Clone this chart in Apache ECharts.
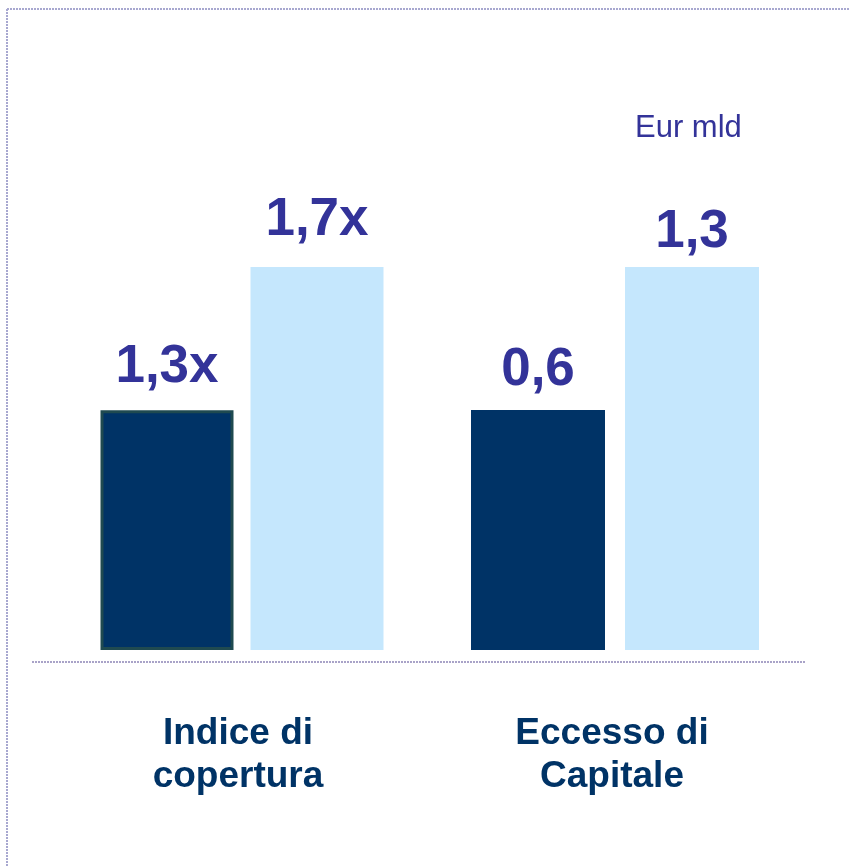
<!DOCTYPE html>
<html>
<head>
<meta charset="utf-8">
<script src="https://cdn.jsdelivr.net/npm/echarts@6/dist/echarts.min.js"></script>
<style>html,body{margin:0;padding:0;background:#fff}#c{width:850px;height:867px}</style>
</head>
<body>
<div id="c"></div>
<script>
// Data
var groups = ['Indice di\ncopertura', 'Eccesso di\nCapitale'];
var barKeys = ['prima', 'dopo'];
var coverageValues = [1.3, 1.7];
var capitalValues = [0.6, 1.3];
var coverageLabels = ['1,3x', '1,7x'];
var capitalLabels = ['0,6', '1,3'];
var unitLabel = 'Eur mld';

var DARK = '#003366', LIGHT = '#C5E7FD', LABEL = '#333399';

function items(vals, labels, distances, firstBorder) {
  return vals.map(function (v, i) {
    var it = {
      value: v,
      itemStyle: { color: i === 0 ? DARK : LIGHT },
      label: { formatter: labels[i], distance: distances[i] }
    };
    if (i === 0 && firstBorder) {
      it.itemStyle.borderColor = '#1F4A50';
      it.itemStyle.borderWidth = 3;
    }
    return it;
  });
}

var labelStyle = {
  show: true, position: 'top',
  fontFamily: 'Liberation Sans, Arial, sans-serif',
  fontWeight: 'bold', fontSize: 53, color: LABEL
};

var chart = echarts.init(document.getElementById('c'), null, { renderer: 'canvas' });
chart.setOption({
  animation: false,
  grid: [
    { left: 92, width: 300, top: 267, bottom: 217 },
    { left: 461, width: 308, top: 267, bottom: 217 }
  ],
  xAxis: [
    { type: 'category', gridIndex: 0, data: barKeys, show: false },
    { type: 'category', gridIndex: 1, data: barKeys, show: false }
  ],
  yAxis: [
    { type: 'value', gridIndex: 0, min: 0.63, max: 1.7, startValue: 0.63, show: false, splitLine: { show: false } },
    { type: 'value', gridIndex: 1, min: -0.575, max: 1.3, startValue: -0.575, show: false, splitLine: { show: false } }
  ],
  title: [
    { text: groups[0], left: 233, top: 707, textAlign: 'center',
      textStyle: { fontFamily: 'Liberation Sans, Arial, sans-serif', fontWeight: 'bold', fontSize: 37, lineHeight: 43, color: '#003366' } },
    { text: groups[1], left: 607, top: 707, textAlign: 'center',
      textStyle: { fontFamily: 'Liberation Sans, Arial, sans-serif', fontWeight: 'bold', fontSize: 37, lineHeight: 43, color: '#003366' } },
    { text: unitLabel, left: 630, top: 108,
      textStyle: { fontFamily: 'Liberation Sans, Arial, sans-serif', fontWeight: 'normal', fontSize: 31, color: LABEL } }
  ],
  graphic: [
    { type: 'line', shape: { x1: 7, y1: 9, x2: 850, y2: 9 }, style: { stroke: '#A8A8D0', lineWidth: 2, lineDash: [2, 1] }, silent: true },
    { type: 'line', shape: { x1: 7, y1: 9, x2: 7, y2: 867 }, style: { stroke: '#A8A8D0', lineWidth: 2, lineDash: [2, 1] }, silent: true },
    { type: 'line', shape: { x1: 32, y1: 662, x2: 806, y2: 662 }, style: { stroke: '#A9A3C8', lineWidth: 2, lineDash: [2, 1] }, silent: true }
  ],
  series: [
    { type: 'bar', xAxisIndex: 0, yAxisIndex: 0, barWidth: 133, label: labelStyle,
      data: items(coverageValues, coverageLabels, [16, 20], true) },
    { type: 'bar', xAxisIndex: 1, yAxisIndex: 1, barWidth: 134, label: labelStyle,
      data: items(capitalValues, capitalLabels, [13, 8], false) }
  ]
});
</script>
</body>
</html>
